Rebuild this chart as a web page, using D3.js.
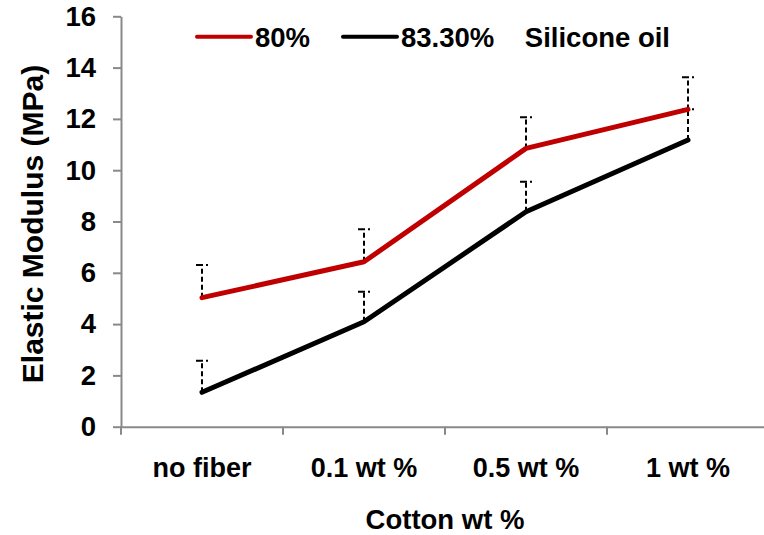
<!DOCTYPE html>
<html>
<head>
<meta charset="utf-8">
<script src="https://cdn.jsdelivr.net/npm/d3@7"></script>
<style>
  body { margin: 0; background: #fff; }
  text { font-family: "Liberation Sans", Arial, sans-serif; font-weight: bold; fill: #000; }
</style>
</head>
<body>
<svg id="chart" width="764" height="535"></svg>
<script>
// values
var categories = ['no fiber', '0.1 wt %', '0.5 wt %', '1 wt %'];
var series80 = [5.03, 6.43, 10.85, 12.37];
var series80Err = [1.27, 1.27, 1.21, 1.25];
var series833 = [1.34, 4.09, 8.38, 11.18];
var series833Err = [1.23, 1.17, 1.17, 1.2];
var yTicks = [0, 2, 4, 6, 8, 10, 12, 14, 16];
var legendLabels = ['80%', '83.30%    Silicone oil'];

var svg = d3.select('#chart');
var axisColor = '#898989';

var x = d3.scaleBand().domain(categories).range([121, 769]).paddingInner(0).paddingOuter(0);
var y = d3.scaleLinear().domain([0, 16]).range([426.7, 16.3]);

var series = [
    { name : legendLabels[0], values : series80, err : series80Err, color : '#c00000' },
    { name : legendLabels[1], values : series833, err : series833Err, color : '#000000' }
];

// y axis
var yAxis = svg.append('g')
    .attr('transform', 'translate(121,0)')
    .call(d3.axisLeft(y).tickValues(yTicks).tickSize(8).tickSizeOuter(0).tickPadding(17));
yAxis.select('.domain').attr('stroke', axisColor).attr('stroke-width', 2);
yAxis.selectAll('.tick line').attr('stroke', axisColor).attr('stroke-width', 2);
yAxis.selectAll('.tick text').attr('font-size', 27.5).attr('font-family', null).attr('fill', '#000');

// x axis
var xAxis = svg.append('g')
    .attr('transform', 'translate(0,' + y(0) + ')')
    .call(d3.axisBottom(x).tickSize(0).tickSizeOuter(0).tickPadding(31));
xAxis.select('.domain').attr('stroke', axisColor).attr('stroke-width', 2);
xAxis.selectAll('.tick text').attr('font-size', 27).attr('font-family', null).attr('fill', '#000');
xAxis.selectAll('line.bound')
    .data(categories.map(function (c) { return x(c); }).concat([x.range()[1]]))
    .enter().append('line')
    .attr('class', 'bound')
    .attr('x1', function (d) { return d; })
    .attr('x2', function (d) { return d; })
    .attr('y1', 0)
    .attr('y2', 8)
    .attr('stroke', axisColor)
    .attr('stroke-width', 2);

// axis titles
svg.append('text')
    .attr('transform', 'translate(43,224) rotate(-90)')
    .attr('text-anchor', 'middle')
    .attr('font-size', 30)
    .text('Elastic Modulus (MPa)');

svg.append('text')
    .attr('x', 445)
    .attr('y', 529)
    .attr('text-anchor', 'middle')
    .attr('font-size', 27.5)
    .text('Cotton wt %');

var cx = function (i) { return x(categories[i]) + x.bandwidth() / 2; };

// error bars (plus only, dashed)
var errG = svg.append('g');
series.forEach(function (s) {
    s.values.forEach(function (v, i) {
        errG.append('line')
            .attr('x1', cx(i)).attr('x2', cx(i))
            .attr('y1', y(v)).attr('y2', y(v + s.err[i]))
            .attr('stroke', '#000').attr('stroke-width', 2)
            .attr('stroke-dasharray', '5,3');
        errG.append('line')
            .attr('x1', cx(i) - 6).attr('x2', cx(i) + 6)
            .attr('y1', y(v + s.err[i])).attr('y2', y(v + s.err[i]))
            .attr('stroke', '#000').attr('stroke-width', 2)
            .attr('stroke-dasharray', '7,3');
    });
});

// lines
var line = d3.line()
    .x(function (d, i) { return cx(i); })
    .y(function (d) { return y(d); });

series.slice().reverse().forEach(function (s) {
    svg.append('path')
        .datum(s.values)
        .attr('d', line)
        .attr('fill', 'none')
        .attr('stroke', s.color)
        .attr('stroke-width', 5)
        .attr('stroke-linejoin', 'round')
        .attr('stroke-linecap', 'round');
});

// legend
var legendX = [197, 343];
var legend = svg.append('g');
series.forEach(function (s, i) {
    legend.append('line')
        .attr('x1', legendX[i]).attr('x2', legendX[i] + 54)
        .attr('y1', 36.7).attr('y2', 36.7)
        .attr('stroke', s.color).attr('stroke-width', 4)
        .attr('stroke-linecap', 'round');
    legend.append('text')
        .attr('x', legendX[i] + 58)
        .attr('y', 46.5)
        .attr('font-size', 27.5)
        .style('white-space', 'pre')
        .text(s.name);
});
</script>
</body>
</html>
